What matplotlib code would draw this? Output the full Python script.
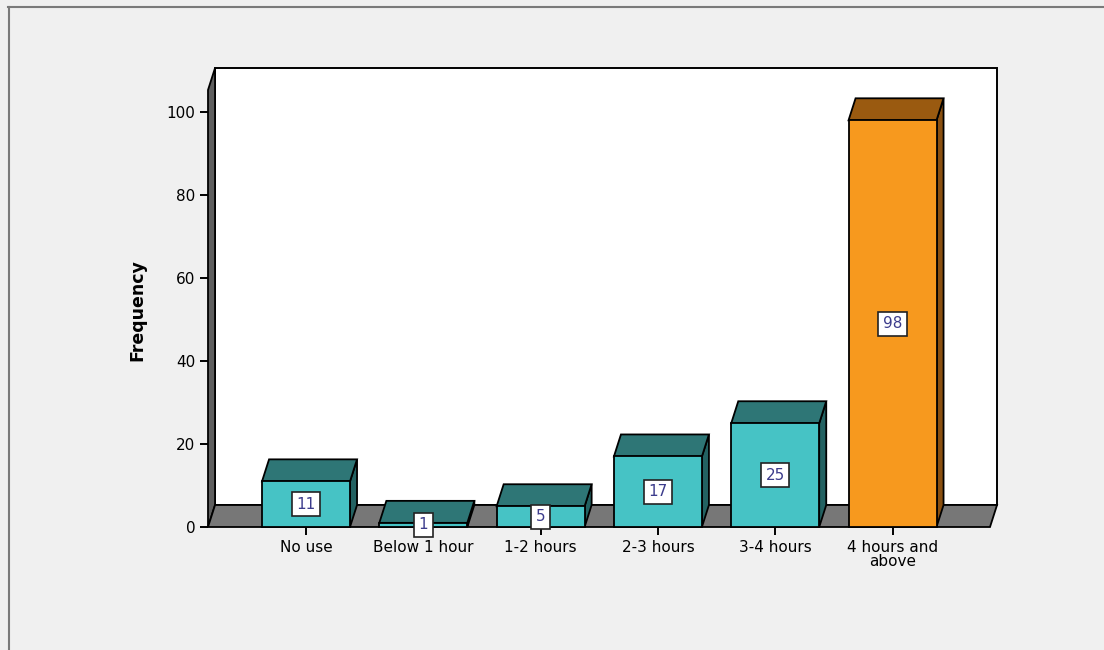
import matplotlib
matplotlib.use("Agg")
import matplotlib.pyplot as plt
from matplotlib.patches import Polygon, Rectangle
from matplotlib.lines import Line2D

# data
categories = ["No use", "Below 1 hour", "1-2 hours", "2-3 hours", "3-4 hours", "4 hours and\nabove"]
frequency = [11, 1, 5, 17, 25, 98]
y_ticks = [0, 20, 40, 60, 80, 100]

# colours (front, top, side)
teal = ("#46c3c5", "#2e7676", "#236262")
orange = ("#f7991e", "#9a5a10", "#8a5010")
bar_colors = [teal, teal, teal, teal, teal, orange]

plt.rcParams["font.family"] = ["DejaVu Sans"]

W, H = 1104, 650
fig = plt.figure(figsize=(W / 100, H / 100), dpi=100)
fig.patch.set_facecolor("#f0f0f0")

# outer frame lines (top and left)
fig.add_artist(Line2D([8 / W, 1], [1 - 7 / H, 1 - 7 / H], color="#7a7a7a", lw=1.5))
fig.add_artist(Line2D([9 / W, 9 / W], [0, 1 - 7 / H], color="#7a7a7a", lw=1.5))

# front plane of the chart
ax = fig.add_axes([208 / W, 123 / H, 782 / W, 437 / H])
xl, xr = -0.8355, 5.831
ytop = 105.3
ax.set_xlim(xl, xr)
ax.set_ylim(0, ytop)
ax.patch.set_visible(False)
for s in ax.spines.values():
    s.set_visible(False)

# depth offset for the 3d look
dx, dy = 0.06, 5.3
bw = 0.75
elw = 1.3

# back wall
ax.add_patch(Rectangle((xl + dx, dy), xr - xl, ytop, fc="white", ec="black",
                       lw=1.4, clip_on=False, zorder=1))
# left wall
ax.add_patch(Polygon([(xl, 0), (xl + dx, dy), (xl + dx, ytop + dy), (xl, ytop)],
                     closed=True, fc="#5e5e5e", ec="black", lw=elw, clip_on=False, zorder=2))
# floor
ax.add_patch(Polygon([(xl, 0), (xr, 0), (xr + dx, dy), (xl + dx, dy)],
                     closed=True, fc="#777777", ec="black", lw=elw, clip_on=False, zorder=2))

# bars
for i, (v, col) in enumerate(zip(frequency, bar_colors)):
    x0, x1 = i - bw / 2, i + bw / 2
    side = [(x1, 0), (x1 + dx, dy), (x1 + dx, v + dy), (x1, v)]
    top = [(x0, v), (x1, v), (x1 + dx, v + dy), (x0 + dx, v + dy)]
    ax.add_patch(Polygon(side, closed=True, fc=col[2], ec="black", lw=elw, clip_on=False, zorder=3))
    ax.add_patch(Polygon(top, closed=True, fc=col[1], ec="black", lw=elw, clip_on=False, zorder=3))
    ax.add_patch(Rectangle((x0, 0), bw, v, fc=col[0], ec="black", lw=elw, clip_on=False, zorder=4))
    ax.text(i, v / 2, str(v), ha="center", va="center", color="#3c3c8c", fontsize=11,
            zorder=6, bbox=dict(boxstyle="square,pad=0.3", fc="white", ec="#222222", lw=1.2))

# axes ticks and labels
ax.set_xticks(range(len(categories)), categories)
ax.set_yticks(y_ticks)
ax.tick_params(axis="both", direction="out", length=6, width=1.4, colors="black", labelsize=11)
ax.tick_params(axis="x", pad=3)
ax.tick_params(axis="y", pad=3)
for lbl in ax.get_xticklabels():
    lbl.set_linespacing(0.95)

ax.set_ylabel("Frequency", fontsize=12.5, fontweight="bold")
ax.yaxis.set_label_coords(-0.079, 0.497)

fig.savefig("out.png", dpi=100, facecolor=fig.get_facecolor())
